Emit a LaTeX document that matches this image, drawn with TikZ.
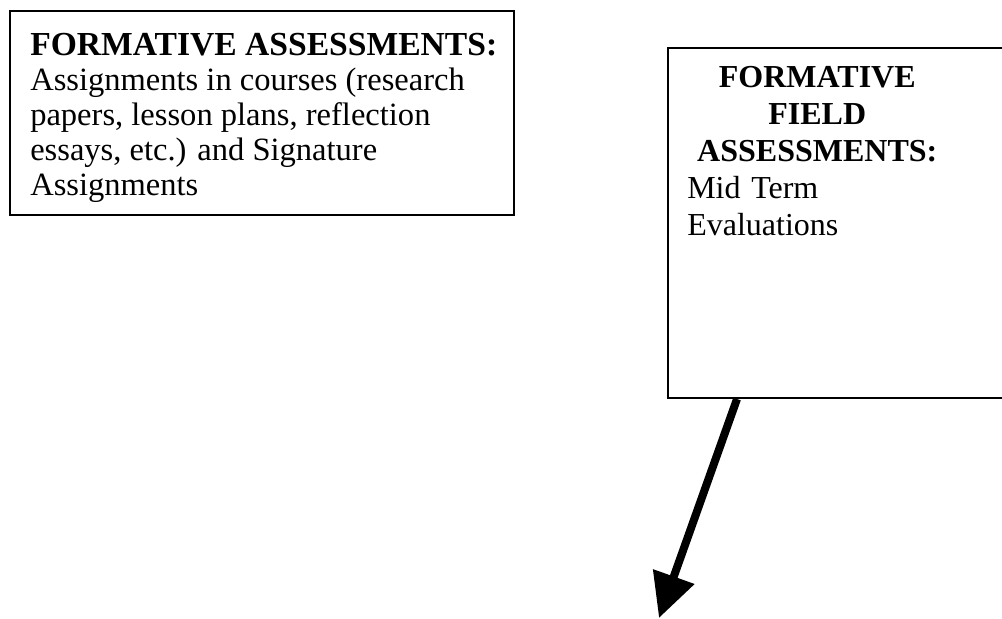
\documentclass[tikz,border=0pt]{standalone}
\usepackage{fontspec}
\setmainfont{Liberation Serif}
\usepackage{tikz}
\usetikzlibrary{arrows.meta}

\begin{document}
\begin{tikzpicture}[x=0.75pt,y=0.75pt,yscale=-1,xscale=1,
  frame/.style={draw, line width=1.5pt, anchor=north west, inner sep=0pt},
  txt/.style={anchor=north west, inner sep=0pt, align=left}]
\useasboundingbox (0,0) rectangle (1002,618);
%boxes
\node (course) [frame, minimum width=378pt, minimum height=153pt] at (9,10) {};
\node (field) [frame, minimum width=257.25pt, minimum height=262.5pt] at (667,47) {};
%texts
\node (coursetxt) [txt, font=\fontsize{24.4}{26.2}\selectfont] at (30,33) {{\fontsize{25.2}{26.2}\selectfont\bfseries FORMATIVE ASSESSMENTS:}\\ Assignments in courses (research\\ papers, lesson plans, reflection\\ essays, etc.) and Signature\\ Assignments};
\node (fieldtxt) [txt, text width=195pt, font=\fontsize{24}{27.7}\selectfont] at (687,66) {{\centering\bfseries FORMATIVE\\ FIELD\\ ASSESSMENTS:\par}\raggedright Mid Term\\ Evaluations};
%arrow
\coordinate (tip) at (659,618);
\draw [line width=6pt, -{Triangle[length=33pt,width=31.5pt]}] ([xshift=52.5pt]field.south west) -- (tip);
\end{tikzpicture}
\end{document}
